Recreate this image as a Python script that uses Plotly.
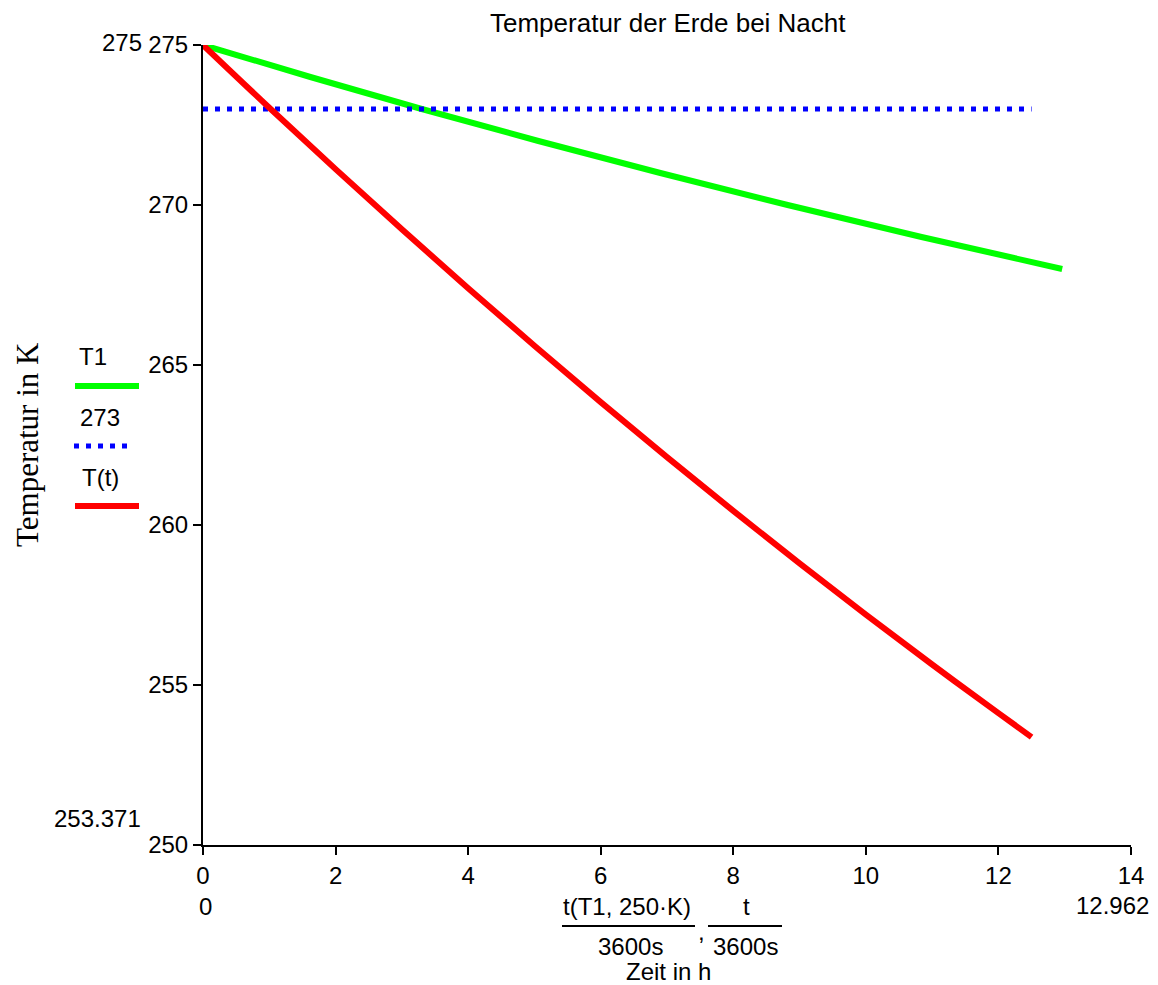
import plotly.graph_objects as go

# ---- data ----
green_x = [0, 1.62, 3.30, 5.06, 6.90, 8.82, 10.84, 12.962]
green_y = [275, 274, 273, 272, 271, 270, 269, 268]

red_x = [0, 1, 2, 3, 4, 5, 6, 7, 8, 9, 10, 11, 12, 12.5]
red_y = [275, 273.04, 271.12, 269.24, 267.40, 265.60, 263.84, 262.12,
         260.44, 258.80, 257.20, 255.64, 254.12, 253.371]

blue_x = [0, 12.5]
blue_y = [273, 273]

x_ticks = [0, 2, 4, 6, 8, 10, 12, 14]
y_ticks = [250, 255, 260, 265, 270, 275]

W, H = 1158, 985
L, R, T, B = 203, 1131, 45, 845
FONT = "Liberation Sans, Arial, sans-serif"
SERIF = "Liberation Serif, Times New Roman, serif"
FS = 24


def pp(px, py):
    return (px - L) / (R - L), (B - py) / (B - T)


fig = go.Figure()
fig.add_trace(go.Scatter(x=green_x, y=green_y, mode="lines",
                         line=dict(color="#00FF00", width=6, shape="spline"), name="T1"))
fig.add_trace(go.Scatter(x=blue_x, y=blue_y, mode="lines",
                         line=dict(color="#0000FF", width=5, dash="5px,7px"), name="273"))
fig.add_trace(go.Scatter(x=red_x, y=red_y, mode="lines",
                         line=dict(color="#FF0000", width=6, shape="spline"), name="T(t)"))

ann = []


def text(px, py, s, size=FS, font=FONT, angle=0, xanchor="center"):
    x, y = pp(px, py)
    ann.append(dict(x=x, y=y, xref="paper", yref="paper", text=s, showarrow=False,
                    font=dict(family=font, size=size, color="black"),
                    xanchor=xanchor, yanchor="middle", textangle=angle))


text(668, 23, "Temperatur der Erde bei Nacht", size=26)
text(122, 42, "275")
text(97, 818, "253.371")
text(205, 906, "0")
text(1112, 905, "12.962")
text(627, 906, "t(T1, 250·K)")
text(701, 931, ",")
text(746, 906, "t")
text(630, 946, "3600s")
text(745, 946, "3600s")
text(668, 971, "Zeit in h")
text(27, 445, "Temperatur in K", size=31, font=SERIF, angle=-90)
text(93, 356, "T1")
text(100, 417, "273")
text(100, 477, "T(t)")

shapes = []


def hline(x0, x1, py, color="black", width=2, dash="solid"):
    a, b = pp(x0, py)
    c, _ = pp(x1, py)
    shapes.append(dict(type="line", xref="paper", yref="paper", x0=a, x1=c, y0=b, y1=b,
                       line=dict(color=color, width=width, dash=dash)))


hline(562, 695, 926)
hline(708, 782, 926)
hline(75, 139, 386, color="#00FF00", width=6)
hline(74, 130, 446, color="#0000FF", width=5, dash="5px,7px")
hline(75, 139, 506, color="#FF0000", width=6)

axis_common = dict(showgrid=False, zeroline=False, ticklen=8, tickwidth=2,
                   tickcolor="black", tickfont=dict(family=FONT, size=FS, color="black"))

fig.update_layout(
    width=W, height=H,
    margin=dict(l=L, r=W - R, t=T, b=H - B, pad=0),
    plot_bgcolor="white", paper_bgcolor="white",
    showlegend=False,
    annotations=ann, shapes=shapes,
    xaxis=dict(range=[0, 14], tickvals=x_ticks, ticks="outside", showline=True,
               linecolor="black", linewidth=2, **axis_common),
    yaxis=dict(range=[250, 275], tickvals=y_ticks, ticks="outside", showline=True,
               linecolor="black", linewidth=2, **axis_common),
    xaxis2=dict(range=[0, 14], tickvals=x_ticks, ticks="inside", showline=False,
                showticklabels=False, overlaying="x", anchor="y", side="bottom", **axis_common),
    yaxis2=dict(range=[250, 275], tickvals=y_ticks, ticks="inside", showline=False,
                showticklabels=False, overlaying="y", anchor="x", side="left", **axis_common),
)

fig.write_html("out.html", config={"displayModeBar": False},
               post_script="document.body.style.margin='0';")
